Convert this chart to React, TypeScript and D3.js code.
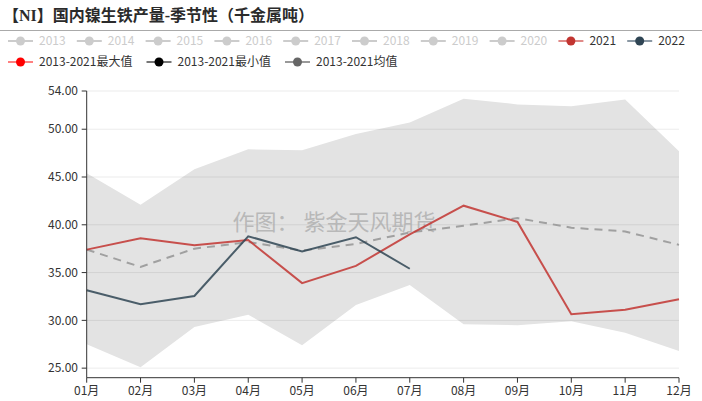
import React from "react";
import * as d3 from "d3";

const months = ["01月", "02月", "03月", "04月", "05月", "06月", "07月", "08月", "09月", "10月", "11月", "12月"];
const maxValues = [45.4, 42.1, 45.8, 47.9, 47.8, 49.5, 50.7, 53.2, 52.6, 52.4, 53.1, 47.7];
const minValues = [27.5, 25.1, 29.3, 30.6, 27.4, 31.6, 33.7, 29.6, 29.5, 29.9, 28.7, 26.8];
const avgValues = [37.4, 35.6, 37.5, 38.2, 37.3, 38.0, 39.2, 39.9, 40.7, 39.7, 39.3, 37.9];
const values2021 = [37.4, 38.6, 37.85, 38.4, 33.9, 35.7, 39.0, 42.0, 40.3, 30.65, 31.1, 32.2];
const values2022 = [33.15, 31.7, 32.55, 38.8, 37.2, 38.7, 35.4];
const yTicks = [25, 30, 35, 40, 45, 50, 54];
const greyYears = ["2013", "2014", "2015", "2016", "2017", "2018", "2019", "2020"];

const W = 702;
const H = 401;
const FONT = "'Noto Sans CJK SC', 'Noto Sans', sans-serif";
const TITLE_FONT = "'Liberation Serif', 'Noto Sans CJK SC', serif";

export default function App() {
  const x = d3.scalePoint<string>().domain(months).range([86.7, 679]);
  const y = d3.scaleLinear().domain([24, 54]).range([377.7, 91]);

  const area = d3
    .area<number>()
    .x((_, i) => x(months[i]) as number)
    .y0((_, i) => y(minValues[i]))
    .y1((d) => y(d));
  const line = d3
    .line<number>()
    .x((_, i) => x(months[i]) as number)
    .y((d) => y(d));

  const row1 = [
    ...greyYears.map((t) => ({ t, line: "#ccc", dot: "#ccc", text: "#ccc" })),
    { t: "2021", line: "#e08a88", dot: "#c23531", text: "#333" },
    { t: "2022", line: "#8a98a4", dot: "#2f4554", text: "#333" },
  ];
  const row2 = [
    { t: "2013-2021最大值", line: "#ff8080", dot: "#ff0000", text: "#333" },
    { t: "2013-2021最小值", line: "#777", dot: "#000000", text: "#333" },
    { t: "2013-2021均值", line: "#999", dot: "#666666", text: "#333" },
  ];

  const legendItem = (it: any, xPos: number, yPos: number, key: string) => (
    <g key={key} transform={`translate(${xPos},${yPos})`}>
      <line x1={0} x2={25} y1={0} y2={0} stroke={it.line} strokeWidth={2} />
      <circle cx={12.5} cy={0} r={4.5} fill={it.dot} />
      <text x={31} y={0} dy="0.35em" fontSize={12} fill={it.text} fontFamily={FONT}>
        {it.t}
      </text>
    </g>
  );

  return (
    <div style={{ position: "absolute", left: 0, top: 0 }}>
      <svg width={W} height={H} style={{ display: "block", background: "#fff" }}>
        <text x={3} y={15} dy="0.35em" fontSize={16} fontWeight="bold" fill="#2b2b2b" fontFamily={TITLE_FONT}>
          【NI】国内镍生铁产量-季节性（千金属吨）
        </text>
        <line x1={0} x2={W} y1={30.5} y2={30.5} stroke="#aaa" strokeWidth={1} />

        {row1.map((it, i) => legendItem(it, 8 + i * 68.8, 41, "r1" + i))}
        {row2.map((it, i) => legendItem(it, 8 + i * 138.5, 62, "r2" + i))}

        <path d={area(maxValues) || ""} fill="#e3e3e3" />

        {yTicks.map((t) => (
          <line key={"g" + t} x1={86.7} x2={679} y1={y(t)} y2={y(t)} stroke="#000" strokeOpacity={0.08} strokeWidth={1} />
        ))}

        <text
          x={334}
          y={222}
          dy="0.35em"
          textAnchor="middle"
          fontSize={22}
          fill="#aaa"
          fillOpacity={0.75}
          fontFamily={FONT}
        >
          作图： 紫金天风期货
        </text>

        <path d={line(avgValues) || ""} fill="none" stroke="#a0a0a0" strokeWidth={2} strokeDasharray="8,6" />
        <path d={line(values2021) || ""} fill="none" stroke="#c23531" strokeOpacity={0.85} strokeWidth={2} />
        <path d={line(values2022) || ""} fill="none" stroke="#2f4554" strokeOpacity={0.85} strokeWidth={2} />

        <line x1={86.7} x2={86.7} y1={91} y2={377.7} stroke="#333" strokeWidth={1} />
        {yTicks.map((t) => (
          <g key={"yt" + t}>
            <line x1={81.7} x2={86.7} y1={y(t)} y2={y(t)} stroke="#333" />
            <text x={78} y={y(t)} dy="0.35em" textAnchor="end" fontSize={12} fill="#333" fontFamily={FONT}>
              {t.toFixed(2)}
            </text>
          </g>
        ))}

        <line x1={86.7} x2={679} y1={377.7} y2={377.7} stroke="#333" strokeWidth={1} />
        {months.map((m) => (
          <g key={m}>
            <line x1={x(m)} x2={x(m)} y1={377.7} y2={382.7} stroke="#333" />
            <text x={x(m)} y={391} dy="0.35em" textAnchor="middle" fontSize={12} fill="#333" fontFamily={FONT}>
              {m}
            </text>
          </g>
        ))}
      </svg>
    </div>
  );
}
